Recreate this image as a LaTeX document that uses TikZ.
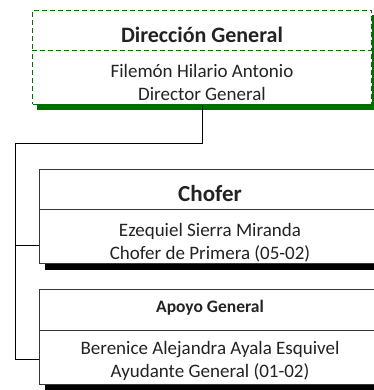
\documentclass[tikz,border=0pt]{standalone}
\usepackage{fontspec}
\setmainfont{Carlito}
\usepackage{tikz}
\usetikzlibrary{positioning,calc}
\definecolor{dirgreen}{RGB}{0,110,0}
\definecolor{boxgray}{RGB}{55,55,55}
\definecolor{txtgray}{RGB}{35,35,35}

\begin{document}
\begin{tikzpicture}[
        x=1pt, y=-1pt,
        font=\fontsize{19}{23}\selectfont,
        head/.style={rectangle, draw=boxgray, fill=white, line width=1pt, text=txtgray, font=\fontsize{22}{23}\selectfont\bfseries, minimum width=341pt, minimum height=40pt, inner sep=0pt, text height=24pt, text depth=0pt, anchor=north west},
        body/.style={rectangle, draw=boxgray, fill=white, line width=1pt, text=txtgray, align=center, minimum width=341pt, minimum height=54pt, inner sep=0pt, text height=46pt, text depth=0pt, anchor=north west},
        dirbox/.style={draw=dirgreen, dash pattern=on 5pt off 3pt, minimum width=339pt},
        link/.style={draw=black, line width=1pt}
    ]
        \useasboundingbox (0,0) rectangle (373,390);

        % shadows
        \fill[dirgreen] (37,15) rectangle (376,110);
        \fill[black] (45,175) rectangle (386,270);
        \fill[black] (45,295) rectangle (386,390);

        % Direccion General
        \node[head, dirbox] (dirHead) at (32,10) {Dirección General};
        \node[body, dirbox] (dirBody) at (32,50) {Filemón Hilario Antonio\\Director General};

        % Chofer
        \node[head, font=\fontsize{23}{23}\selectfont\bfseries] (choHead) at (39,169) {Chofer};
        \node[body, text height=45pt] (choBody) at (39,209) {Ezequiel Sierra Miranda\\Chofer de Primera (05-02)};

        % Apoyo General
        \node[head, font=\fontsize{17.5}{23}\selectfont\bfseries, text height=5pt, minimum height=41pt] (apoHead) at (39,289) {Apoyo General};
        \node[body, text height=39pt] (apoBody) at (39,330) {Berenice Alejandra Ayala Esquivel\\Ayudante General (01-02)};

        % connectors
        \coordinate (bus) at (15,144);
        \coordinate (jCho) at (15,245);
        \coordinate (jApo) at (15,359);
        \draw[link] (dirBody.south) |- (bus) -- (jApo);
        \foreach \j in {jCho,jApo} {
            \draw[link] (\j) -- (\j -| choBody.west);
        }
    \end{tikzpicture}
\end{document}
